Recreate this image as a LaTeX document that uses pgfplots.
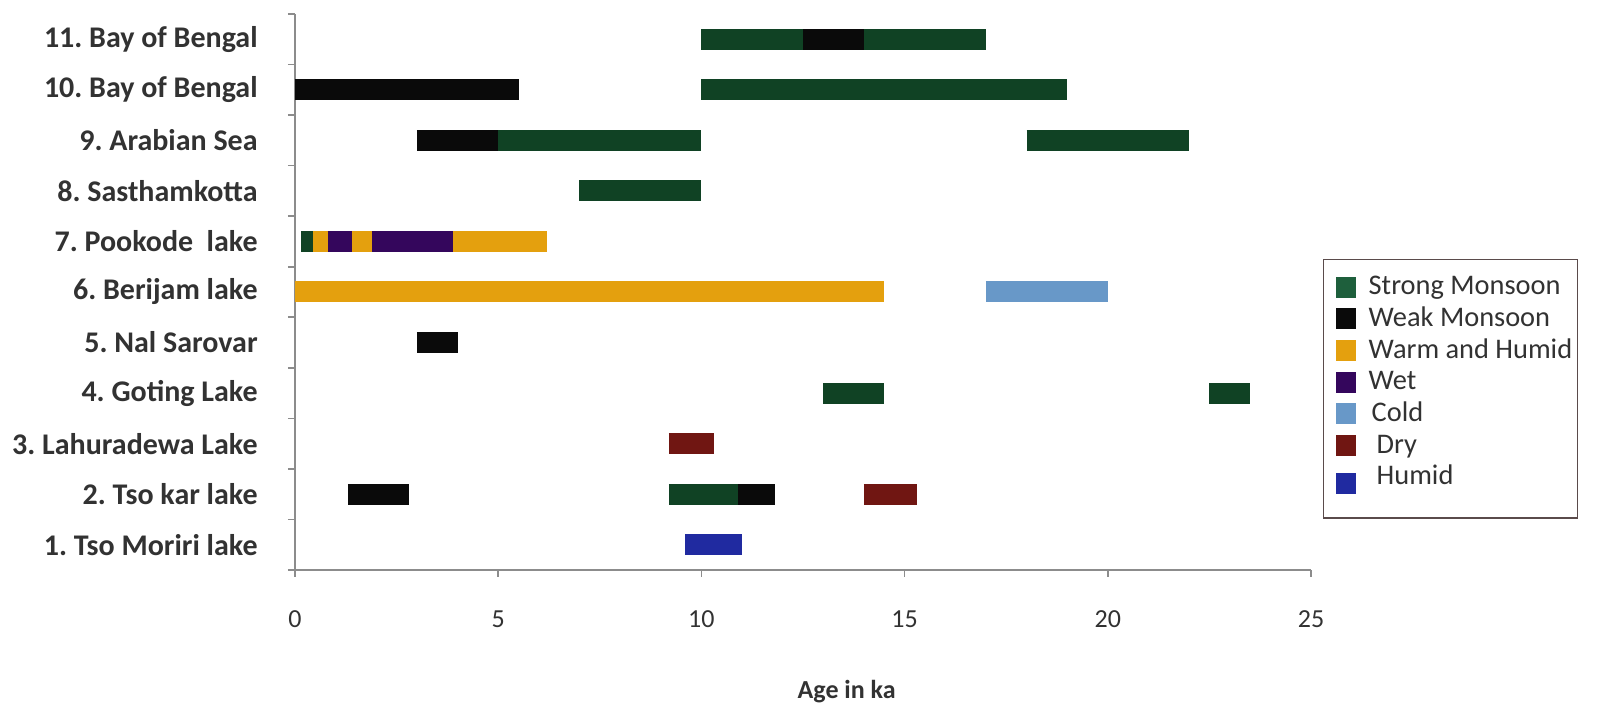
\documentclass[border=0pt]{standalone}
\usepackage{pgfplots}
\pgfplotsset{compat=1.18}
\usepackage{fontspec}
\setmainfont{Carlito}
\frenchspacing
\definecolor{cStrong}{RGB}{16,66,36}
\definecolor{cStrongL}{RGB}{30,95,60}
\definecolor{cWeak}{RGB}{10,10,10}
\definecolor{cWarm}{RGB}{228,160,14}
\definecolor{cWet}{RGB}{52,6,92}
\definecolor{cCold}{RGB}{104,152,200}
\definecolor{cDry}{RGB}{112,22,18}
\definecolor{cHumid}{RGB}{32,42,160}
\definecolor{axgray}{RGB}{140,140,140}
\definecolor{txt}{RGB}{50,50,50}
\newcommand{\LE}[1]{\makebox[98.5pt][l]{#1}}
\begin{document}
\begin{tikzpicture}
\path[use as bounding box] (-147.5pt,-67.5pt) rectangle (651.5pt,285pt);
\begin{axis}[
  scale only axis, width=508pt, height=278pt,
  xmin=0, xmax=25, ymin=0.5, ymax=11.5,
  axis x line*=bottom, axis y line*=left,
  axis line style={axgray, line width=0.8pt},
  tick align=outside, major tick length=3.5pt,
  every tick/.style={axgray, line width=0.8pt},
  xtick={0,5,...,25},
  ytick={0.5,1.5,...,11.5}, yticklabels={},
  extra y ticks={1,2,3,4,5,6,7,8,9,10,11},
  extra y tick labels={1. Tso Moriri lake,2. Tso kar lake,3. Lahuradewa Lake,4. Goting Lake,5. Nal Sarovar,6. Berijam lake,7. Pookode\ \ lake,8. Sasthamkotta,9. Arabian Sea,10. Bay of Bengal,11. Bay of Bengal},
  extra y tick style={major tick length=0pt, yticklabel style={font=\fontsize{15}{17}\selectfont\bfseries, text=txt, inner sep=0pt, anchor=east, xshift=-18.5pt}},
  xticklabel style={font=\fontsize{13}{15}\selectfont, text=txt, inner sep=0pt, anchor=center, yshift=-21pt},
  /pgf/number format/assume math mode=true,
  xlabel={Age in ka},
  xlabel style={font=\fontsize{13}{15}\selectfont\bfseries, text=txt, at={(axis description cs:0.543,0)}, anchor=center, yshift=-61pt},
  unbounded coords=jump,
  legend cell align=left,
  legend style={at={(axis description cs:1.0118,0.5594)}, anchor=north west,
    draw={rgb,255:red,90;green,75;blue,75}, line width=0.7pt,
    inner xsep=6pt, inner ysep=7.5pt, row sep=2.85pt,
    font=\fontsize{14.2}{16}\selectfont, text=txt,
    nodes={inner sep=0pt, text height=10pt, text depth=3pt}},
  legend image code/.code={\fill[#1, draw=none] (0pt,-5pt) rectangle (10pt,5.5pt); \path[draw=none, fill=none] (0pt,0pt) -- (16.5pt,0pt);},
]
% Strong Monsoon
\addplot[forget plot, cStrong, line width=10.5pt] coordinates {
 (10,11) (12.5,11) (nan,nan) (14,11) (17,11) (nan,nan)
 (10,10) (19,10) (nan,nan)
 (5,9) (10,9) (nan,nan) (18,9) (22,9) (nan,nan)
 (7,8) (10,8) (nan,nan)
 (0.15,7) (0.45,7) (nan,nan)
 (13,4) (14.5,4) (nan,nan) (22.5,4) (23.5,4) (nan,nan)
 (9.2,2) (10.9,2)};
% Weak Monsoon
\addplot[forget plot, cWeak, line width=10.5pt] coordinates {
 (12.5,11) (14,11) (nan,nan)
 (0,10) (5.5,10) (nan,nan)
 (3,9) (5,9) (nan,nan)
 (3,5) (4,5) (nan,nan)
 (1.3,2) (2.8,2) (nan,nan) (10.9,2) (11.8,2)};
% Warm and Humid
\addplot[forget plot, cWarm, line width=10.5pt] coordinates {
 (0.45,7) (0.8,7) (nan,nan) (1.4,7) (1.9,7) (nan,nan) (3.9,7) (6.2,7) (nan,nan)
 (0,6) (14.5,6)};
% Wet
\addplot[forget plot, cWet, line width=10.5pt] coordinates {
 (0.8,7) (1.4,7) (nan,nan) (1.9,7) (3.9,7)};
% Cold
\addplot[forget plot, cCold, line width=10.5pt] coordinates {(17,6) (20,6)};
% Dry
\addplot[forget plot, cDry, line width=10.5pt] coordinates {
 (9.2,3) (10.3,3) (nan,nan) (14,2) (15.3,2)};
% Humid
\addplot[forget plot, cHumid, line width=10.5pt] coordinates {(9.6,1) (11,1)};
\addlegendimage{fill=cStrongL}\addlegendentry{\LE{Strong Monsoon}}
\addlegendimage{fill=cWeak}\addlegendentry{\LE{Weak Monsoon}}
\addlegendimage{fill=cWarm}\addlegendentry{\LE{Warm and Humid}}
\addlegendimage{fill=cWet}\addlegendentry{\LE{Wet}}
\addlegendimage{fill=cCold}\addlegendentry{\LE{\hspace{1.5pt}Cold}}
\addlegendimage{fill=cDry}\addlegendentry{\LE{\hspace{4pt}Dry}}
\addlegendimage{fill=cHumid}\addlegendentry[text depth=9pt]{\LE{\hspace{4pt}Humid}}
\end{axis}
\end{tikzpicture}
\end{document}
